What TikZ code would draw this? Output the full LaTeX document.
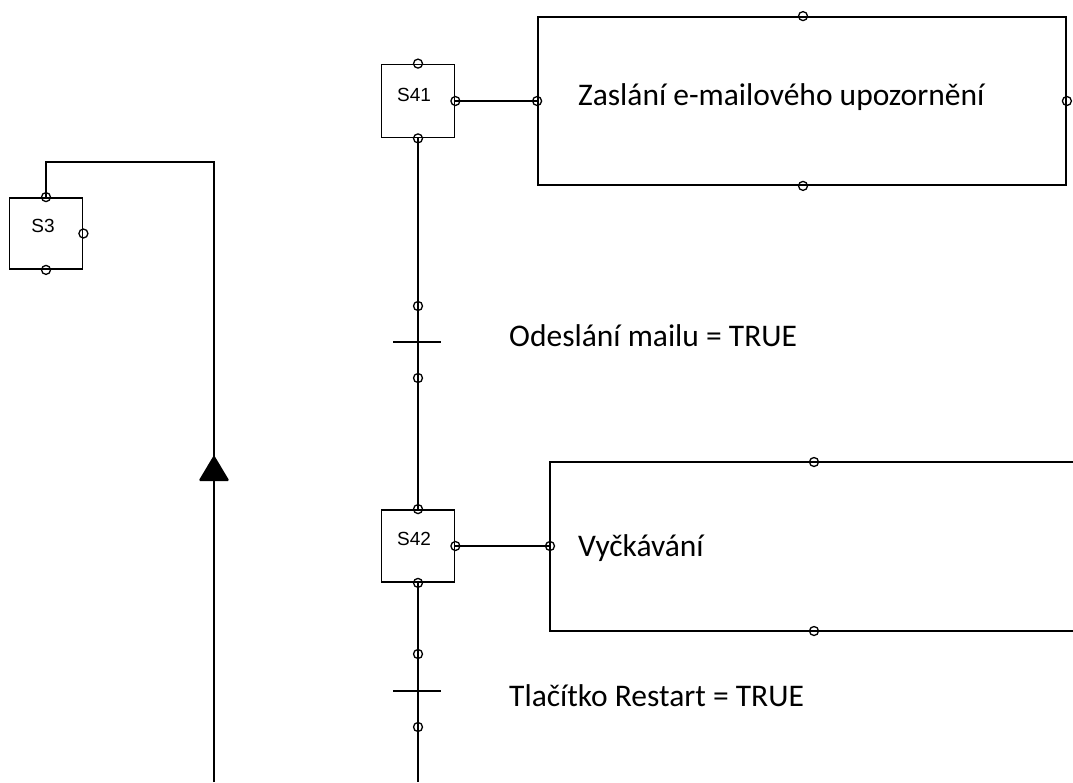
\documentclass[tikz,border=0pt]{standalone}
\usepackage{fontspec}
\setmainfont{Carlito}
\newfontfamily\stepfont{Liberation Sans}
\begin{document}
\begin{tikzpicture}[x=1pt,y=-1pt,
  wire/.style={line width=1.8pt,black},
  stepbox/.style={draw,line width=1.8pt,inner sep=0pt,minimum width=73pt},
  actbox/.style={draw,line width=1.8pt,inner sep=0pt},
  port/.style={circle,draw,line width=1.3pt,inner sep=0pt,minimum size=9pt},
  steplbl/.style={font=\stepfont\fontsize{19}{19}\selectfont,inner sep=0pt},
  txt/.style={font=\fontsize{31.5}{34}\selectfont,anchor=base west,inner sep=0pt},
  bar/.style={line width=1.8pt}]
\useasboundingbox (0,0) rectangle (1073,782);

% --- step S3 and the return loop ---
\node[stepbox,minimum height=71pt] (s3) at (46,233.5) {};
\node[steplbl] (s3l) at (43,226) {S3};
\coordinate (loopbot) at (214,782);
\coordinate (loopcorner) at (214,162);
\draw[wire] (loopbot) -- (loopcorner) -| (s3.north);
\fill[rounded corners=1.5pt] (214,455) -- (229.5,481) -- (198.5,481) -- cycle;
\node[port] (s3t) at (s3.north) {};
\node[port] (s3r) at (s3.east) {};
\node[port] (s3b) at (s3.south) {};

% --- step S41 with its action ---
\node[stepbox,minimum height=73pt] (s41) at (418,101) {};
\node[steplbl] (s41l) at (414,95) {S41};
\node[actbox,minimum width=528pt,minimum height=168pt] (a41) at (802,101) {};
\draw[wire] (s41.east) -- (a41.west);
\node[txt] (a41t) at (578,105.5) {Zaslání e-mailového upozornění};
\node[port] (s41t) at (s41.north) {};
\node[port] (s41r) at (s41.east) {};
\node[port] (s41b) at (s41.south) {};
\node[port] (a41l) at (a41.west) {};
\node[port] (a41r) at (a41.east) {};
\node[port] (a41u) at ([xshift=1pt]a41.north) {};
\node[port] (a41d) at ([xshift=1pt]a41.south) {};

% --- transition 1 ---
\node[port] (t1t) at (418,306) {};
\node[port] (t1b) at (418,378) {};
\coordinate (t1) at (418,342);
\draw[bar] ([xshift=-25pt]t1) -- ([xshift=23pt]t1);
\node[txt] (t1l) at (509,346) {Odeslání mailu = TRUE};

% --- step S42 with its action ---
\node[stepbox,minimum height=72pt] (s42) at (418,546) {};
\node[steplbl] (s42l) at (414,539) {S42};
\coordinate (a42l) at (550,546);
\draw[actbox] (1075,462) -| (550,631) -- (1075,631);
\draw[wire] (s42.east) -- (a42l);
\node[txt] (a42t) at (578,556) {Vyčkávání};
\node[port] (s42t) at (s42.north) {};
\node[port] (s42r) at (s42.east) {};
\node[port] (s42b) at (s42.south) {};
\node[port] (a42p) at (a42l) {};
\node[port] (a42u) at (814,462) {};
\node[port] (a42d) at (814,631) {};

% --- transition 2 ---
\node[port] (t2t) at (418,654) {};
\node[port] (t2b) at (418,727) {};
\coordinate (t2) at (418,691);
\coordinate (s42out) at (418,782);
\draw[bar] ([xshift=-25pt]t2) -- ([xshift=23pt]t2);
\node[txt] (t2l) at (509,706) {Tlačítko Restart = TRUE};

% --- vertical flow between the steps ---
\draw[wire] (s41b.center) -- (t1t.center) -- (t1b.center) -- (s42t.center);
\draw[wire] (s42b.center) -- (t2t.center) -- (t2b.center) -- (s42out);
\end{tikzpicture}
\end{document}
